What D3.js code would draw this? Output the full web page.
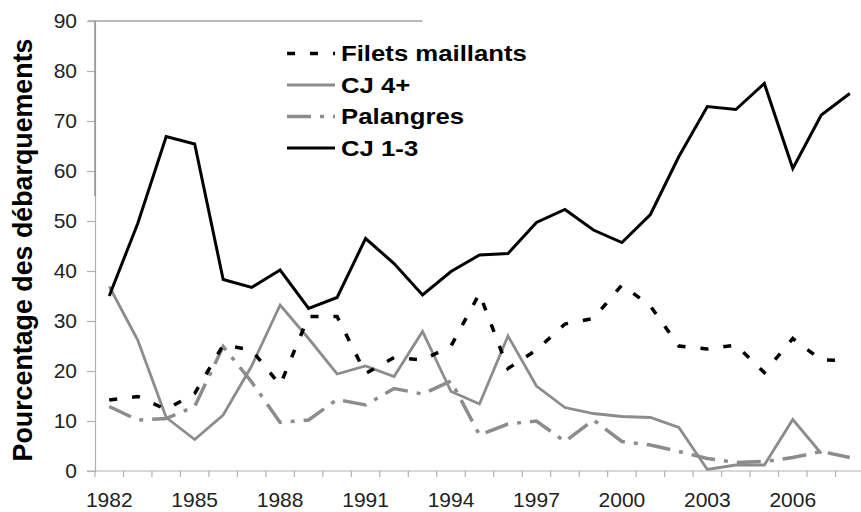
<!DOCTYPE html>
<html>
<head>
<meta charset="utf-8">
<script src="https://cdn.jsdelivr.net/npm/d3@7"></script>
<style>
  body { margin: 0; background: #fff; }
  svg { display: block; }
</style>
</head>
<body>
<svg id="chart" width="861" height="512"></svg>
<script>
// Years on the x axis
const years = d3.range(1982, 2009);
const yearLabels = [1982, 1985, 1988, 1991, 1994, 1997, 2000, 2003, 2006];
const yTicks = [0, 10, 20, 30, 40, 50, 60, 70, 80, 90];

// Series values (% of landings)
const filets = [14.2, 14.9, 12.3, 15.5, 25.2, 24.2, 17.2, 30.9, 30.9, 19.5, 22.7, 22.2, 25, 35.5,
  20.5, 24.2, 29.4, 30.5, 37.2, 33, 25, 24.4, 25.2, 19.7, 26.5, 22.2, 22.1];
const cj4 = [36.9, 26.2, 10.7, 6.3, 11.2, 21, 33.2, 26.5, 19.4, 21, 18.9, 27.9, 15.9, 13.4,
  27, 17, 12.7, 11.5, 10.9, 10.7, 8.7, 0.3, 1.2, 1.2, 10.3, 3.5, null];
const palangres = [12.9, 10.2, 10.5, 12.9, 24.9, 17.8, 9.7, 10.2, 14.3, 13.2, 16.5, 15.4, 18, 7.2,
  9.4, 10, 5.9, 10.2, 5.9, 5.2, 3.9, 2.5, 1.7, 1.9, 2.7, 3.9, 2.7];
const cj13 = [35, 49.5, 66.9, 65.4, 38.3, 36.7, 40.2, 32.5, 34.7, 46.5, 41.5, 35.2, 39.9, 43.2,
  43.5, 49.7, 52.3, 48.2, 45.7, 51.3, 62.9, 72.9, 72.3, 77.5, 60.5, 71.2, 75.5];

const seriesNames = ["Filets maillants", "CJ 4+", "Palangres", "CJ 1-3"];
const seriesValues = [filets, cj4, palangres, cj13];

// Line styles per series
const styles = [
  {color: "#000", width: 3.5, dash: "8,15"},
  {color: "#8c8c8c", width: 2.8, dash: null},
  {color: "#8c8c8c", width: 3.5, dash: "24,9,4,9"},
  {color: "#000", width: 3, dash: null}
];

const svg = d3.select("#chart");
const font = "'Liberation Sans', Arial, Helvetica, sans-serif";

// Scales
const x = d3.scaleBand().domain(years).range([95, 864]).padding(0);
const y = d3.scaleLinear().domain([0, 90]).range([471, 21]);
const cx = d => x(d) + x.bandwidth() / 2;

// Legend frame remnants (top and left edges)
svg.append("line")
  .attr("x1", 88).attr("x2", cx(1993))
  .attr("y1", y(90)).attr("y2", y(90))
  .attr("stroke", "#777").attr("stroke-width", 1.2);

// Y axis
const yAxis = svg.append("g")
  .attr("transform", "translate(95,0)")
  .call(d3.axisLeft(y).tickValues(yTicks).tickSize(8).tickPadding(10));
yAxis.select(".domain").attr("stroke", "#b0b0b0").attr("stroke-width", 1.2);
yAxis.selectAll(".tick line").attr("stroke", "#b0b0b0").attr("stroke-width", 1.2);
yAxis.selectAll(".tick text")
  .attr("font-family", font).attr("font-size", 21).attr("fill", "#222");

svg.append("line")
  .attr("x1", 95).attr("x2", 95)
  .attr("y1", y(90)).attr("y2", y(55))
  .attr("stroke", "#909090").attr("stroke-width", 1.4);

// X axis line
svg.append("line")
  .attr("x1", 87).attr("x2", 861)
  .attr("y1", y(0)).attr("y2", y(0))
  .attr("stroke", "#b0b0b0").attr("stroke-width", 1.2);

// X ticks at band boundaries
svg.append("g").selectAll("line")
  .data(years)
  .join("line")
  .attr("x1", d => x(d)).attr("x2", d => x(d))
  .attr("y1", y(0)).attr("y2", y(0) + 6)
  .attr("stroke", "#b0b0b0").attr("stroke-width", 1.2);

// X labels every 3 years
svg.append("g").selectAll("text")
  .data(yearLabels)
  .join("text")
  .attr("x", d => cx(d))
  .attr("y", 507)
  .attr("text-anchor", "middle")
  .attr("font-family", font).attr("font-size", 21).attr("fill", "#222")
  .text(d => d);

// Y title
svg.append("text")
  .attr("transform", `translate(32,${(y(0) + y(90)) / 2 + 4}) rotate(-90)`)
  .attr("text-anchor", "middle")
  .attr("font-family", font).attr("font-size", 26.8).attr("font-weight", "bold")
  .attr("fill", "#000")
  .text("Pourcentage des débarquements");

// Lines
const line = d3.line()
  .defined(d => d.v !== null)
  .x(d => cx(d.year))
  .y(d => y(d.v));

// Draw order: gray first, black on top
[2, 1, 0, 3].forEach(i => {
  const data = years.map((yr, j) => ({year: yr, v: seriesValues[i][j]}));
  const st = styles[i];
  svg.append("path")
    .datum(data)
    .attr("d", line)
    .attr("fill", "none")
    .attr("stroke", st.color)
    .attr("stroke-width", st.width)
    .attr("stroke-linejoin", "miter")
    .attr("stroke-dasharray", st.dash);
});

// Legend
const legend = svg.append("g").selectAll("g")
  .data(seriesNames)
  .join("g")
  .attr("transform", (d, i) => `translate(287,${53.5 + i * 31.5})`);

legend.append("line")
  .attr("x1", 0).attr("x2", 48)
  .attr("stroke", (d, i) => styles[i].color)
  .attr("stroke-width", (d, i) => styles[i].width)
  .attr("stroke-dasharray", (d, i) => styles[i].dash);

legend.append("text")
  .attr("transform", "translate(54,0) scale(1.17,1)")
  .attr("dy", "0.36em")
  .attr("font-family", font).attr("font-size", 22).attr("font-weight", "bold")
  .attr("fill", "#000")
  .text(d => d);
</script>
</body>
</html>
